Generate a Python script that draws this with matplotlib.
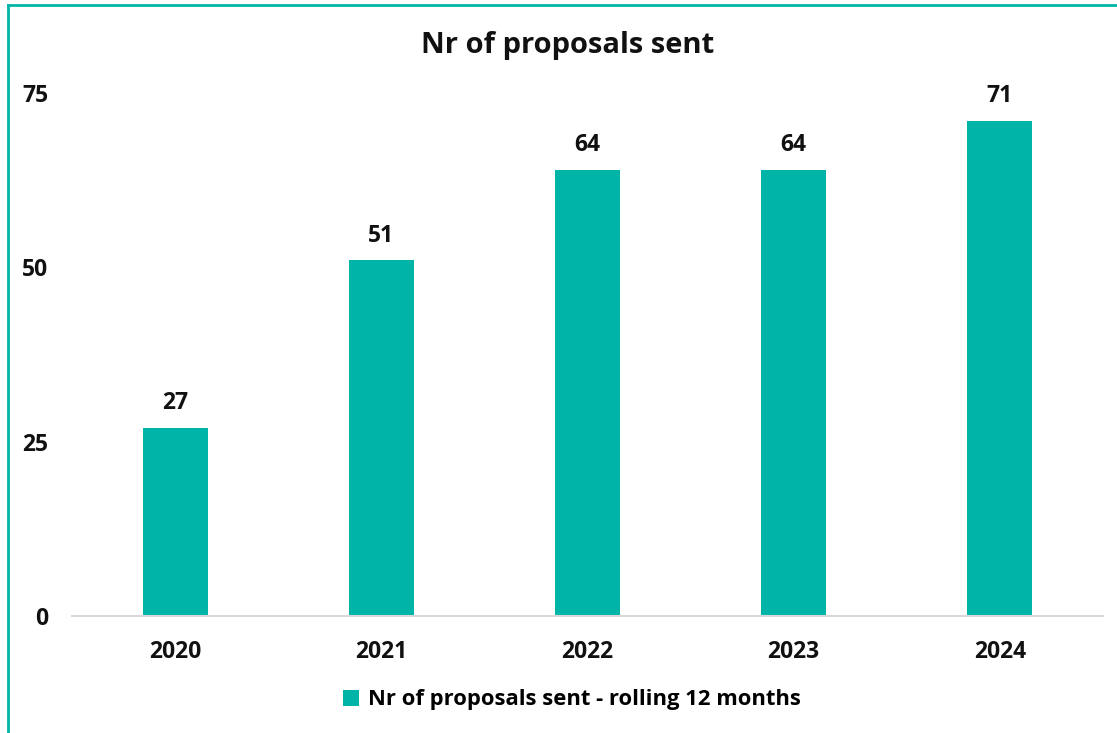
import matplotlib
matplotlib.use("Agg")
import matplotlib.pyplot as plt
from matplotlib.lines import Line2D
from matplotlib.patches import Patch

years = ["2020", "2021", "2022", "2023", "2024"]
values = [27, 51, 64, 64, 71]
yticks = [0, 25, 50, 75]
title = "Nr of proposals sent"
series_name = "Nr of proposals sent - rolling 12 months"

teal = "#00B5A8"
plt.rcParams['font.family'] = ['Open Sans', 'DejaVu Sans']

W, H = 1117, 733
fig = plt.figure(figsize=(W/100, H/100), dpi=100)
ax = fig.add_axes([72/W, 1-616/H, (1103-72)/W, (616-93)/H])

x = list(range(len(years)))
bars = ax.bar(x, values, width=0.315, color=teal)
for xi, v in zip(x, values):
    ax.annotate(str(v), (xi, v), xytext=(0, 9), textcoords="offset points",
                ha="center", va="bottom", fontsize=16.5, fontweight="bold", color="#111111")

ax.set_xlim(-0.5, len(years) - 0.5)
ax.set_ylim(0, 75)
ax.set_yticks(yticks)
ax.set_xticks(x)
ax.set_xticklabels(years)
for s in ["top", "right", "left"]:
    ax.spines[s].set_visible(False)
ax.spines["bottom"].set_color("#D9D9D9")
ax.spines["bottom"].set_linewidth(1.5)
ax.tick_params(axis="both", length=0, labelsize=16.5, colors="#111111")
ax.tick_params(axis="y", pad=17)
ax.tick_params(axis="x", pad=17)
for lab in ax.get_xticklabels() + ax.get_yticklabels():
    lab.set_fontweight("bold")

fig.text(568/W, 1-46/H, title, ha="center", va="center", fontsize=21, fontweight="bold", color="#111111")

handle = Patch(facecolor=teal, edgecolor="none")
fig.legend([handle], [series_name], loc="center", bbox_to_anchor=(572/W, 1-700/H),
           frameon=False, prop={"size": 15.8, "weight": "bold"}, handlelength=0.7, handleheight=0.7,
           handletextpad=0.4)

# border lines (left and top)
fig.add_artist(Line2D([8/W, 8/W], [0, 1-5/H], transform=fig.transFigure, color=teal, lw=2))
fig.add_artist(Line2D([8/W, 1], [1-5/H, 1-5/H], transform=fig.transFigure, color=teal, lw=2))

fig.savefig("out.png", dpi=100)
